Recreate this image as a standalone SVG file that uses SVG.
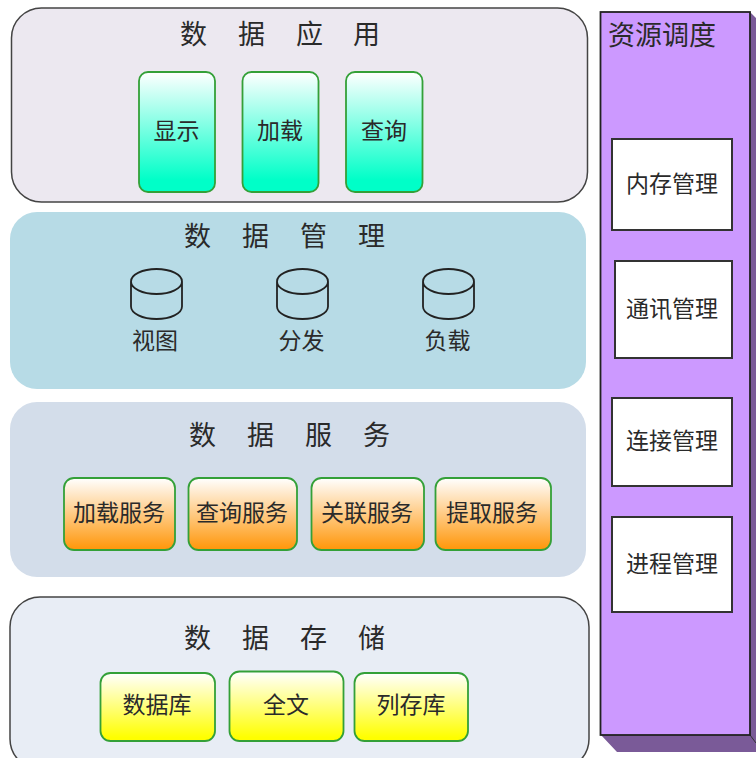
<svg xmlns="http://www.w3.org/2000/svg" width="756" height="758" viewBox="0 0 756 758">
<style>
text{font-family:"Noto Sans CJK SC","Noto Sans",sans-serif;fill:#2a2a2a}
.t{font-size:27px}
.l{font-size:23px;text-anchor:middle}
.b{stroke:#34a038;stroke-width:1.800}
.w{fill:#fff;stroke:#333;stroke-width:2}
.c{fill:none;stroke:#222;stroke-width:1.800}
</style>
<defs>
<linearGradient id="g" x1="0" y1="0" x2="0" y2="1"><stop offset="0" stop-color="#fff"/><stop offset="0.9" stop-color="#00ffc8"/></linearGradient>
<linearGradient id="o" x1="0" y1="0" x2="0" y2="1"><stop offset="0" stop-color="#fff"/><stop offset="1" stop-color="#ff9608"/></linearGradient>
<linearGradient id="y" x1="0" y1="0" x2="0" y2="1"><stop offset="0" stop-color="#fff"/><stop offset="0.95" stop-color="#ffff00"/></linearGradient>
<g id="cyl"><path class="c" d="M-25.500 -12.500A25.500 12.500 0 0 1 25.500 -12.500A25.500 12.500 0 0 1 -25.500 -12.500ZM-25.500 -12.500V12.500A25.500 12.500 0 0 0 25.500 12.500V-12.500"/></g>
</defs>
<rect width="756" height="758" fill="#fff"/>
<g id="connectors"/>
<g id="panel-app">
<rect x="11.500" y="8" width="576" height="194" rx="30" fill="#ece8f0" stroke="#444" stroke-width="1.500"/>
<text class="t" y="44" x="180 238 296 353">数据应用</text>
</g>
<g id="node-show"><rect class="b" x="139" y="72" width="76" height="120" rx="9" fill="url(#g)"/><text class="l" x="176.500" y="139">显示</text></g>
<g id="node-load"><rect class="b" x="242.500" y="72" width="76" height="120" rx="9" fill="url(#g)"/><text class="l" x="280" y="139">加载</text></g>
<g id="node-query"><rect class="b" x="346" y="72" width="76.500" height="120" rx="9" fill="url(#g)"/><text class="l" x="384" y="139">查询</text></g>
<g id="panel-mgmt">
<rect x="10" y="212" width="576" height="177" rx="27" fill="#b7dbe6"/>
<text class="t" y="246" x="184 242 300 358">数据管理</text>
</g>
<g id="node-view"><use href="#cyl" x="156.500" y="294"/><text class="l" x="155" y="349">视图</text></g>
<g id="node-dist"><use href="#cyl" x="302.500" y="294"/><text class="l" x="301.500" y="349">分发</text></g>
<g id="node-loadb"><use href="#cyl" x="448.500" y="294"/><text class="l" x="447.500" y="349">负载</text></g>
<g id="panel-svc">
<rect x="10" y="402" width="576" height="175" rx="27" fill="#d3ddea"/>
<text class="t" y="445" x="189 247 305 363">数据服务</text>
</g>
<g id="node-s1"><rect class="b" x="64" y="478" width="111" height="72" rx="10" fill="url(#o)"/><text class="l" x="119" y="521">加载服务</text></g>
<g id="node-s2"><rect class="b" x="188.500" y="478" width="108.500" height="72" rx="10" fill="url(#o)"/><text class="l" x="242" y="521">查询服务</text></g>
<g id="node-s3"><rect class="b" x="311.500" y="478" width="112.500" height="72" rx="10" fill="url(#o)"/><text class="l" x="367" y="521">关联服务</text></g>
<g id="node-s4"><rect class="b" x="435.500" y="478" width="115.500" height="72" rx="10" fill="url(#o)"/><text class="l" x="492" y="521">提取服务</text></g>
<g id="panel-store">
<rect x="10" y="597" width="579" height="172" rx="30" fill="#e8edf5" stroke="#444" stroke-width="1.500"/>
<text class="t" y="648" x="184 242 300 358">数据存储</text>
</g>
<g id="node-db"><rect class="b" x="100.500" y="673" width="114.500" height="68" rx="10" fill="url(#y)"/><text class="l" x="157" y="713">数据库</text></g>
<g id="node-full"><rect class="b" x="229.500" y="671.500" width="114" height="69.500" rx="10" fill="url(#y)"/><text class="l" x="286" y="713">全文</text></g>
<g id="node-col"><rect class="b" x="354.500" y="673" width="113.500" height="68" rx="10" fill="url(#y)"/><text class="l" x="411" y="713">列存库</text></g>
<g id="panel-res">
<path d="M750 12L756 18V752H617L601 735H750Z" fill="#7a5a98"/>
<path d="M750 735L756 743" stroke="#333" stroke-width="1" fill="none"/>
<rect x="600.500" y="12" width="149.500" height="723" fill="#cc99ff" stroke="#222" stroke-width="1.800"/>
<text x="608" y="45" style="font-size:27px">资源调度</text>
</g>
<g id="node-mem"><rect class="w" x="612" y="139" width="120" height="91"/><text class="l" x="672" y="192">内存管理</text></g>
<g id="node-comm"><rect class="w" x="615" y="261" width="117" height="97"/><text class="l" x="672" y="317">通讯管理</text></g>
<g id="node-conn"><rect class="w" x="612" y="398" width="120" height="88"/><text class="l" x="672" y="449">连接管理</text></g>
<g id="node-proc"><rect class="w" x="612" y="517" width="120" height="95"/><text class="l" x="672" y="572">进程管理</text></g>
</svg>
